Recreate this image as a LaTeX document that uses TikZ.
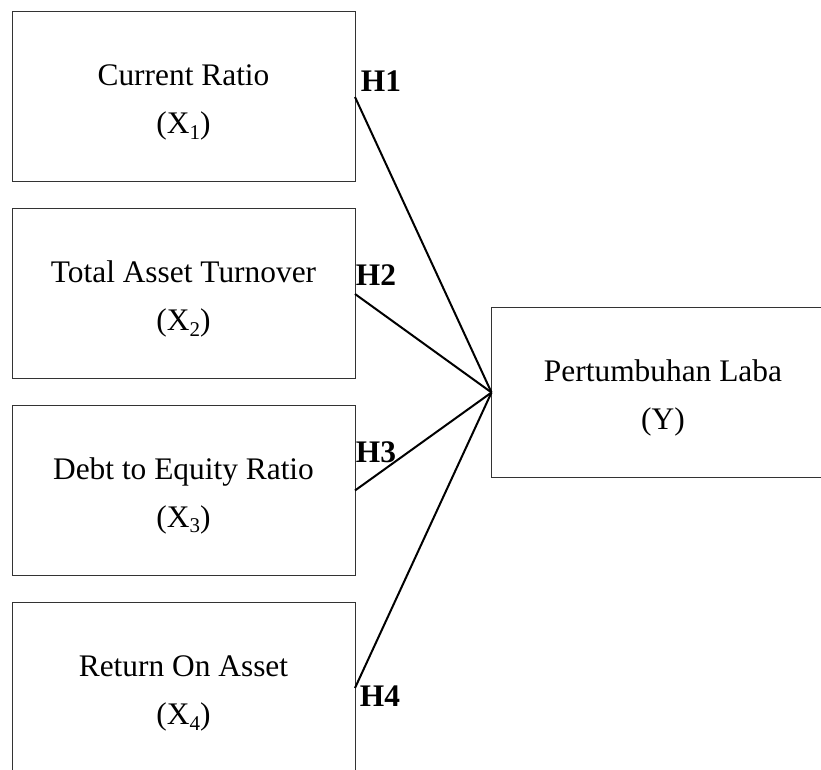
\documentclass[tikz,border=0pt]{standalone}
\usepackage{fontspec}
\setmainfont{Liberation Serif}
\usepackage{tikz}

\newcommand{\lowidx}[1]{\raisebox{-0.4ex}{\fontsize{10.5}{10.5}\selectfont #1}}
\newcommand{\vartext}[2]{\rule{0pt}{16pt}#1\\#2}

\tikzset{
  varbox/.style={draw=black!80, line width=0.5pt, minimum width=171.5pt, minimum height=85pt,
    inner sep=0pt, outer sep=0pt, align=center, font=\fontsize{15.7}{24}\selectfont},
  hyplabel/.style={font=\fontsize{15.7}{19}\selectfont\bfseries, inner sep=0pt},
  link/.style={line width=1pt}
}

\begin{document}
\begin{tikzpicture}[x=0.5pt,y=0.5pt]
                \clip (0,0) rectangle (821,770);
                % Variabel independen
                \node[varbox] (x1) at (183.5,673) {\vartext{Current Ratio}{(X\lowidx{1})}};
                \node[varbox] (x2) at (183.5,476) {\vartext{Total Asset Turnover}{(X\lowidx{2})}};
                \node[varbox] (x3) at (183.5,279.5) {\vartext{Debt to Equity Ratio}{(X\lowidx{3})}};
                \node[varbox] (x4) at (183.5,82) {\vartext{Return On Asset}{(X\lowidx{4})}};
                % Variabel dependen
                \node[varbox] (y) at (663,377.5) {\vartext{Pertumbuhan Laba}{(Y)}};

                \draw[link] (x1.east) -- (y.west);
                \draw[link] (x2.east) -- (y.west);
                \draw[link] (x3.east) -- (y.west);
                \draw[link] (x4.east) -- (y.west);

                \node[hyplabel] (h1) at (381,689) {H1};
                \node[hyplabel] (h2) at (376,495) {H2};
                \node[hyplabel] (h3) at (376,318) {H3};
                \node[hyplabel] (h4) at (380,74) {H4};
            \end{tikzpicture}
\end{document}
